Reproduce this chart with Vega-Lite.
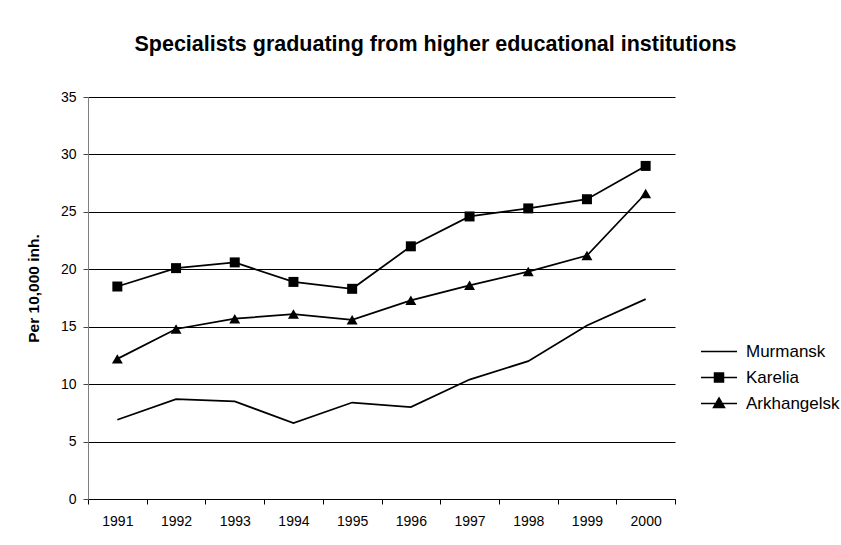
{
  "$schema": "https://vega.github.io/schema/vega-lite/v6.json",
  "width": 587,
  "height": 402,
  "autosize": {"type": "none"},
  "padding": {"left": 88, "top": 97, "right": 166, "bottom": 46},
  "background": "white",
  "config": {"view": {"stroke": null}, "font": "Liberation Sans"},
  "title": {
    "text": "Specialists graduating from higher educational institutions",
    "anchor": "middle",
    "frame": "group",
    "dx": 54,
    "offset": 35,
    "fontSize": 21.5,
    "font": "Liberation Sans",
    "fontWeight": "bold",
    "color": "black"
  },
  "data": {
    "values": [
      {"series": "Murmansk", "year": 1991, "value": 6.9},
      {"series": "Murmansk", "year": 1992, "value": 8.7},
      {"series": "Murmansk", "year": 1993, "value": 8.5},
      {"series": "Murmansk", "year": 1994, "value": 6.6},
      {"series": "Murmansk", "year": 1995, "value": 8.4},
      {"series": "Murmansk", "year": 1996, "value": 8.0},
      {"series": "Murmansk", "year": 1997, "value": 10.4},
      {"series": "Murmansk", "year": 1998, "value": 12.0},
      {"series": "Murmansk", "year": 1999, "value": 15.1},
      {"series": "Murmansk", "year": 2000, "value": 17.4},
      {"series": "Karelia", "year": 1991, "value": 18.5},
      {"series": "Karelia", "year": 1992, "value": 20.1},
      {"series": "Karelia", "year": 1993, "value": 20.6},
      {"series": "Karelia", "year": 1994, "value": 18.9},
      {"series": "Karelia", "year": 1995, "value": 18.3},
      {"series": "Karelia", "year": 1996, "value": 22.0},
      {"series": "Karelia", "year": 1997, "value": 24.6},
      {"series": "Karelia", "year": 1998, "value": 25.3},
      {"series": "Karelia", "year": 1999, "value": 26.1},
      {"series": "Karelia", "year": 2000, "value": 29.0},
      {"series": "Arkhangelsk", "year": 1991, "value": 12.2},
      {"series": "Arkhangelsk", "year": 1992, "value": 14.8},
      {"series": "Arkhangelsk", "year": 1993, "value": 15.7},
      {"series": "Arkhangelsk", "year": 1994, "value": 16.1},
      {"series": "Arkhangelsk", "year": 1995, "value": 15.6},
      {"series": "Arkhangelsk", "year": 1996, "value": 17.3},
      {"series": "Arkhangelsk", "year": 1997, "value": 18.6},
      {"series": "Arkhangelsk", "year": 1998, "value": 19.8},
      {"series": "Arkhangelsk", "year": 1999, "value": 21.2},
      {"series": "Arkhangelsk", "year": 2000, "value": 26.6}
    ]
  },
  "layer": [
    {
      "mark": {"type": "line", "strokeWidth": 1.75, "color": "black"},
      "encoding": {
        "x": {
          "field": "year",
          "type": "quantitative",
          "scale": {"domain": [1990.5, 2000.5], "nice": false, "zero": false},
          "axis": {
            "values": [1990.5, 1991.5, 1992.5, 1993.5, 1994.5, 1995.5, 1996.5, 1997.5, 1998.5, 1999.5, 2000.5],
            "labelExpr": "datum.value > 2000 ? '' : format(datum.value + 0.5, 'd')",
            "labelOffset": 29.35,
            "labelOverlap": false,
            "labelFlush": false,
            "labelBound": false,
            "grid": false,
            "title": null,
            "tickSize": 5,
            "tickColor": "black",
            "domainColor": "black",
            "labelFont": "Liberation Sans",
            "labelFontSize": 14,
            "labelColor": "black",
            "labelPadding": 10
          }
        },
        "y": {
          "field": "value",
          "type": "quantitative",
          "scale": {"domain": [0, 35], "nice": false},
          "axis": {
            "values": [0, 5, 10, 15, 20, 25, 30, 35],
            "grid": true,
            "gridColor": "black",
            "gridOpacity": 1,
            "tickSize": 5,
            "tickColor": "#444444",
            "domainColor": "#808080",
            "labelFont": "Liberation Sans",
            "labelFontSize": 14,
            "labelColor": "black",
            "labelPadding": 7,
            "labelOverlap": false,
            "labelFlush": false,
            "title": "Per 10,000 inh.",
            "titleFont": "Liberation Sans",
            "titleFontSize": 15.5,
            "titleFontWeight": "bold",
            "titleColor": "black",
            "titlePadding": 19,
            "titleY": 191
          }
        },
        "color": {
          "field": "series",
          "type": "nominal",
          "scale": {"domain": ["Murmansk", "Karelia", "Arkhangelsk"], "range": ["black", "black", "black"]},
          "legend": {
            "title": null,
            "orient": "none",
            "legendX": 620,
            "legendY": 243.5,
            "padding": 0,
            "labelFont": "Liberation Sans",
            "labelFontSize": 17,
            "labelColor": "black",
            "symbolSize": 400,
            "rowPadding": 7,
            "labelOffset": 16,
            "encode": {
              "symbols": {
                "update": {
                  "shape": {"signal": "datum.value === 'Murmansk' ? 'M-1.8,0H1.8' : datum.value === 'Karelia' ? 'M-1.8,0H1.8M-0.45,-0.45H0.45V0.45H-0.45Z' : 'M-1.8,0H1.8M0,-0.55L0.55,0.4H-0.55Z'"},
                  "fill": {"value": "black"},
                  "stroke": {"value": "black"},
                  "strokeWidth": {"value": 1.5},
                  "size": {"value": 400},
                  "opacity": {"value": 1},
                  "fillOpacity": {"value": 1},
                  "strokeOpacity": {"value": 1}
                }
              }
            }
          }
        }
      }
    },
    {
      "transform": [{"filter": "datum.series !== 'Murmansk'"}],
      "mark": {"type": "point", "filled": true, "opacity": 1, "color": "black"},
      "encoding": {
        "x": {"field": "year", "type": "quantitative"},
        "y": {"field": "value", "type": "quantitative"},
        "shape": {
          "field": "series",
          "type": "nominal",
          "scale": {"domain": ["Karelia", "Arkhangelsk"], "range": ["square", "triangle-up"]},
          "legend": null
        },
        "size": {
          "field": "series",
          "type": "nominal",
          "scale": {"domain": ["Karelia", "Arkhangelsk"], "range": [100, 120]},
          "legend": null
        }
      }
    }
  ]
}
